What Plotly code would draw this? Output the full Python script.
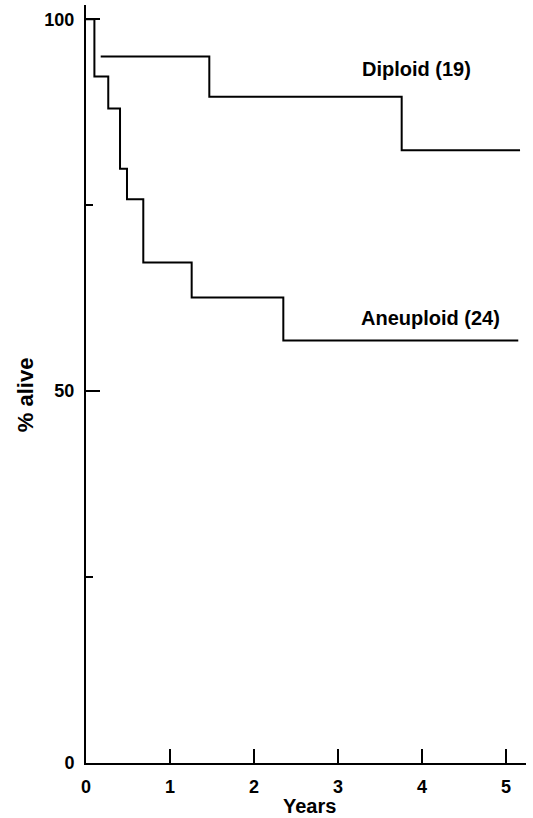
import plotly.graph_objects as go

# Data (Kaplan-Meier style survival steps)
aneu_years = [0, 0.10, 0.265, 0.405, 0.488, 0.682, 1.258, 2.349, 5.146]
aneu_alive = [100, 92.3, 88.0, 79.9, 75.8, 67.3, 62.6, 56.8, 56.8]
dip_years = [0.175, 1.468, 3.758, 5.167]
dip_alive = [95.0, 89.6, 82.4, 82.4]
x_ticks = [0, 1, 2, 3, 4, 5]
y_ticks = [0, 50, 100]
y_minor = [25, 75]
labels = {"Diploid": "Diploid (19)", "Aneuploid": "Aneuploid (24)"}
x_title = "Years"
y_title = "% alive"

FONT = "Liberation Sans, Arial, Helvetica, sans-serif"

fig = go.Figure()
fig.add_trace(go.Scatter(x=aneu_years, y=aneu_alive, mode="lines",
                         line=dict(shape="hv", color="black", width=2),
                         showlegend=False, hoverinfo="skip"))
fig.add_trace(go.Scatter(x=dip_years, y=dip_alive, mode="lines",
                         line=dict(shape="hv", color="black", width=2),
                         showlegend=False, hoverinfo="skip"))

fig.add_annotation(x=3.262, y=93.3, xref="x", yref="y", text=labels["Diploid"],
                   showarrow=False, xanchor="left", yanchor="middle",
                   font=dict(family=FONT, size=20, color="black", weight="bold"))
fig.add_annotation(x=3.254, y=59.8, xref="x", yref="y", text=labels["Aneuploid"],
                   showarrow=False, xanchor="left", yanchor="middle",
                   font=dict(family=FONT, size=20, color="black", weight="bold"))

# axis titles placed as paper-anchored annotations
fig.add_annotation(x=(309 - 86) / 440, y=-(806 - 762.7) / 757.7, xref="paper", yref="paper",
                   text=x_title, showarrow=False, xanchor="center", yanchor="middle",
                   font=dict(family=FONT, size=20, color="black", weight="bold"))
fig.add_annotation(x=-(86 - 25) / 440, y=(762.7 - 395) / 757.7, xref="paper", yref="paper",
                   text=y_title, showarrow=False, xanchor="center", yanchor="middle",
                   textangle=-90,
                   font=dict(family=FONT, size=22, color="black", weight="bold"))

fig.update_layout(
    width=533, height=818,
    margin=dict(l=86, r=7, t=5, b=55, pad=0, autoexpand=False),
    paper_bgcolor="white", plot_bgcolor="white",
    font=dict(family=FONT, color="black"),
    xaxis=dict(range=[0, 5.238], tickvals=x_ticks, ticktext=[str(v) for v in x_ticks],
               ticks="inside", ticklen=14, tickwidth=1.5, tickcolor="black",
               showline=True, linecolor="black", linewidth=2, showgrid=False,
               zeroline=False, automargin=False,
               tickfont=dict(family=FONT, size=18, weight="bold"),
               ticklabelstandoff=6),
    yaxis=dict(range=[0, 101.92], tickvals=y_ticks, ticktext=[str(v) for v in y_ticks],
               ticks="inside", ticklen=14, tickwidth=1.5, tickcolor="black",
               showline=True, linecolor="black", linewidth=2, showgrid=False,
               zeroline=False, automargin=False,
               tickfont=dict(family=FONT, size=18, weight="bold"),
               ticklabelstandoff=6,
               minor=dict(tickvals=y_minor, ticks="inside", ticklen=7, tickwidth=1.5,
                          tickcolor="black", showgrid=False)),
)

fig.write_html("out.html", config={"displayModeBar": False},
               post_script="document.body.style.margin='0';document.body.style.overflow='hidden';")
